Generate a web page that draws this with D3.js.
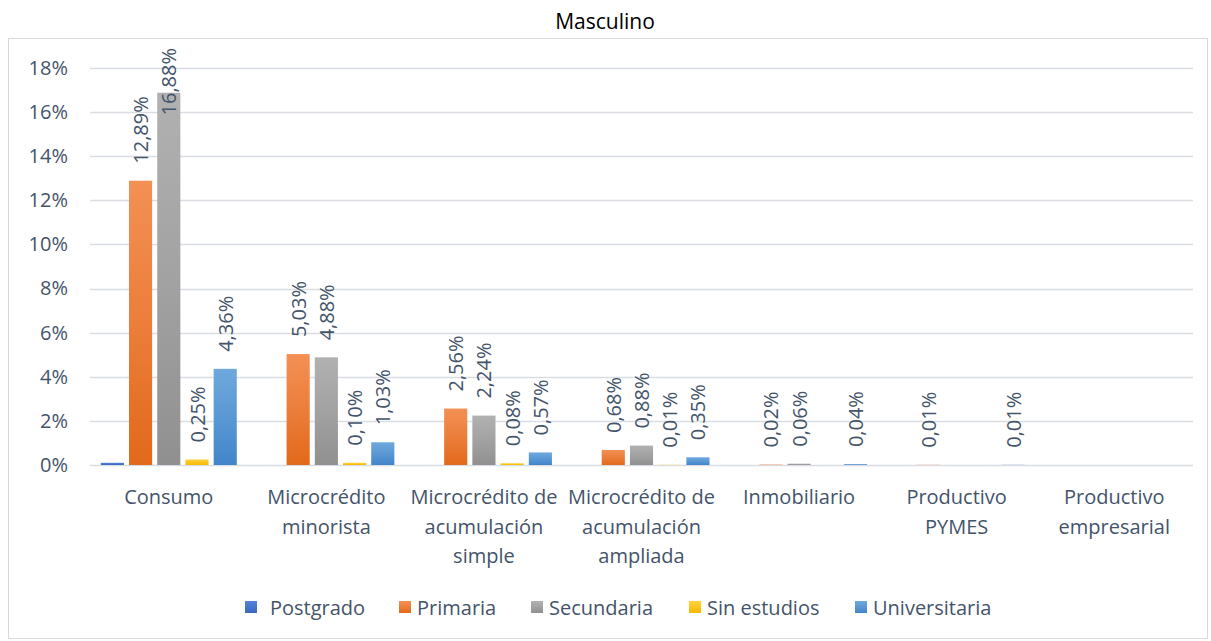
<!DOCTYPE html>
<html>
<head>
<meta charset="utf-8">
<script src="https://cdn.jsdelivr.net/npm/d3@7"></script>
<style>
  body { margin: 0; background: #fff; }
  text { font-family: "Open Sans", Lato, sans-serif; }
</style>
</head>
<body>
<div id="chart"></div>
<script>
// categories (line breaks as in the original axis)
var categories = [
  "Consumo",
  "Microcrédito\nminorista",
  "Microcrédito de\nacumulación\nsimple",
  "Microcrédito de\nacumulación\nampliada",
  "Inmobiliario",
  "Productivo\nPYMES",
  "Productivo\nempresarial"
];
var seriesNames = ["Postgrado", "Primaria", "Secundaria", "Sin estudios", "Universitaria"];

// values in %
var postgrado     = [0.10, 0,    0,    0,    0,    0,    0];
var primaria      = [12.89, 5.03, 2.56, 0.68, 0.02, 0.01, 0];
var secundaria    = [16.88, 4.88, 2.24, 0.88, 0.06, 0,    0];
var sinEstudios   = [0.25, 0.10, 0.08, 0.01, 0,    0,    0];
var universitaria = [4.36, 1.03, 0.57, 0.35, 0.04, 0.01, 0];

var yTicks = [0, 2, 4, 6, 8, 10, 12, 14, 16, 18];

var seriesValues = [postgrado, primaria, secundaria, sinEstudios, universitaria];
var colors = [
  ["#5284d8", "#3a67bd"],
  ["#f39055", "#e2691b"],
  ["#b1b1b1", "#909090"],
  ["#ffd23b", "#f5b800"],
  ["#6fa8dd", "#4185c9"]
];
var textColor = "#44546a";
var fontSize = "20px";

var W = 1211, H = 641;
var svg = d3.select("#chart").append("svg").attr("width", W).attr("height", H);

var defs = svg.append("defs");
colors.forEach(function(c, i) {
  var g = defs.append("linearGradient").attr("id", "grad" + i)
    .attr("x1", 0).attr("y1", 0).attr("x2", 0).attr("y2", 1);
  g.append("stop").attr("offset", "0%").attr("stop-color", c[0]);
  g.append("stop").attr("offset", "50%").attr("stop-color", d3.interpolateRgb(c[0], c[1])(0.45));
  g.append("stop").attr("offset", "100%").attr("stop-color", c[1]);
});

// outer chart border
svg.append("rect")
  .attr("x", 8.5).attr("y", 38.5).attr("width", 1199).attr("height", 600)
  .attr("fill", "none").attr("stroke", "#d9d9d9").attr("stroke-width", 1);

// title
svg.append("text")
  .attr("x", 605).attr("y", 29)
  .attr("text-anchor", "middle")
  .style("font-size", "21px").style("fill", "#000")
  .text("Masculino");

var plot = { left: 90, right: 1193, top: 68, bottom: 465 };

var x0 = d3.scaleBand().domain(categories).range([plot.left, plot.right]).padding(0);
var groupW = 136;
var x1 = d3.scaleBand().domain(seriesNames)
  .range([(x0.bandwidth() - groupW) / 2, (x0.bandwidth() + groupW) / 2])
  .paddingInner(0.18);
var y = d3.scaleLinear().domain([0, 18]).range([plot.bottom, plot.top]);

// gridlines
svg.append("g").selectAll("line").data(yTicks).enter().append("line")
  .attr("x1", plot.left).attr("x2", plot.right)
  .attr("y1", function(d) { return Math.round(y(d)) + 0.5; })
  .attr("y2", function(d) { return Math.round(y(d)) + 0.5; })
  .attr("stroke", "#d9dde3").attr("stroke-width", 1.5);

// y axis labels
var yAxis = svg.append("g")
  .attr("transform", "translate(" + (plot.left - 22) + ",0)")
  .call(d3.axisLeft(y).tickValues(yTicks).tickSize(0).tickFormat(function(d) { return d + "%"; }));
yAxis.select(".domain").remove();
yAxis.selectAll("text")
  .attr("x", 0)
  .style("font-family", "'Open Sans', sans-serif")
  .style("font-size", fontSize).style("fill", textColor);

// x axis labels (multi-line)
var xAxis = svg.append("g")
  .attr("transform", "translate(0," + plot.bottom + ")")
  .call(d3.axisBottom(x0).tickSize(0).tickFormat(""));
xAxis.select(".domain").remove();
xAxis.selectAll(".tick").each(function(d) {
  var t = d3.select(this).append("text")
    .attr("text-anchor", "middle")
    .style("font-family", "'Open Sans', sans-serif")
    .style("font-size", fontSize).style("fill", textColor);
  d.split("\n").forEach(function(line, i) {
    t.append("tspan").attr("x", 0).attr("y", 39 + i * 29.5).text(line);
  });
});

// bars
var rows = categories.map(function(c, ci) {
  return seriesNames.map(function(s, si) {
    return { cat: c, series: s, si: si, value: seriesValues[si][ci] };
  });
});

var groups = svg.append("g").selectAll("g").data(rows).enter().append("g")
  .attr("transform", function(d, i) { return "translate(" + x0(categories[i]) + ",0)"; });

groups.selectAll("rect").data(function(d) { return d; }).enter().append("rect")
  .attr("x", function(d) { return x1(d.series); })
  .attr("width", x1.bandwidth())
  .attr("y", function(d) { return y(d.value); })
  .attr("height", function(d) { return plot.bottom - y(d.value); })
  .attr("fill", function(d) { return "url(#grad" + d.si + ")"; });

// data labels (no labels on Postgrado or empty values)
groups.selectAll("text.lbl")
  .data(function(d) { return d.filter(function(e) { return e.value > 0 && e.si > 0; }); })
  .enter().append("text")
  .attr("class", "lbl")
  .style("font-size", fontSize).style("fill", textColor)
  .attr("dominant-baseline", "central")
  .text(function(d) { return d3.format(".2f")(d.value).replace(".", ",") + "%"; })
  .each(function(d) {
    var len = this.getComputedTextLength();
    var base = y(d.value) - 17;
    if (base - len < 48) base = 48 + len;
    var cx = x1(d.series) + x1.bandwidth() / 2;
    d3.select(this).attr("transform", "translate(" + cx + "," + base + ") rotate(-90)");
  });

// legend
var legendX = [245, 399, 531, 689, 855];
var legend = svg.append("g").selectAll("g").data(seriesNames).enter().append("g")
  .attr("transform", function(d, i) { return "translate(" + legendX[i] + ",607)"; });
legend.append("rect")
  .attr("x", 0).attr("y", -6).attr("width", 12).attr("height", 12)
  .attr("fill", function(d, i) { return "url(#grad" + i + ")"; });
legend.append("text")
  .attr("x", function(d, i) { return i === 0 ? 25 : 18; }).attr("y", 0)
  .attr("dominant-baseline", "central")
  .style("font-size", fontSize).style("fill", textColor)
  .text(function(d) { return d; });
</script>
</body>
</html>
